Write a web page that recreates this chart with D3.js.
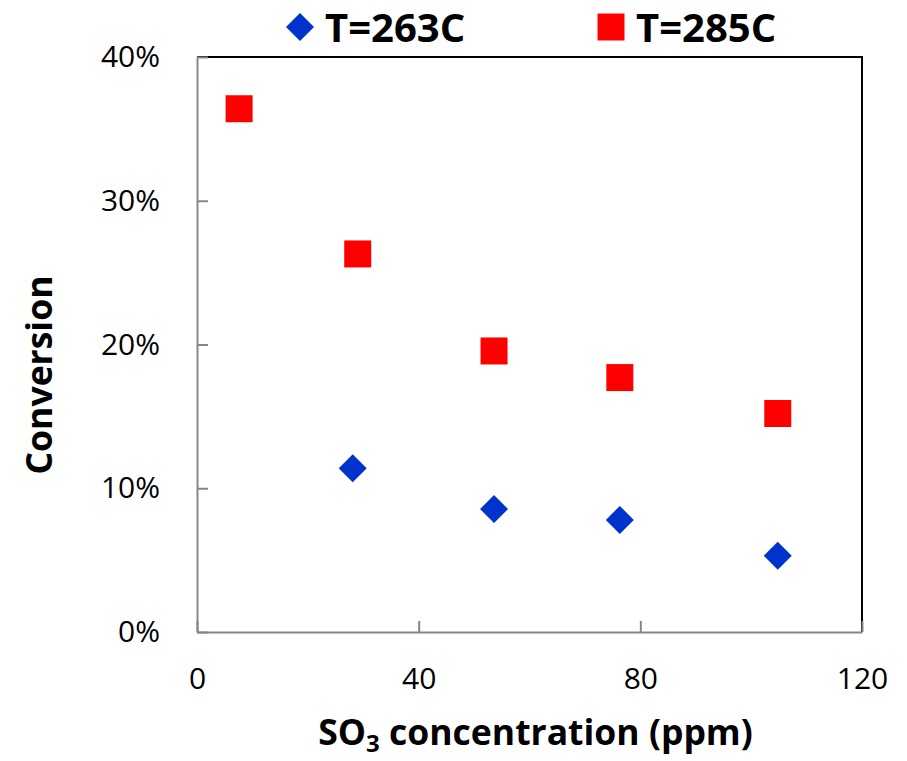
<!DOCTYPE html>
<html>
<head>
<meta charset="utf-8">
<script src="https://cdn.jsdelivr.net/npm/d3@7"></script>
<style>
  body { margin: 0; background: #fff; }
  svg { font-family: "Open Sans", sans-serif; }
</style>
</head>
<body>
<svg id="chart"></svg>
<script>
// series values (x in ppm, y as fraction)
const seriesNames = ["T=263C", "T=285C"];
const so3Low = [28.1, 53.6, 76.3, 104.8];
const convLow = [0.114, 0.0855, 0.078, 0.053];
const so3High = [7.6, 29.0, 53.6, 76.3, 104.8];
const convHigh = [0.364, 0.263, 0.1955, 0.177, 0.152];
const xTicks = [0, 40, 80, 120];
const yTicks = [0, 0.1, 0.2, 0.3, 0.4];

const width = 907, height = 761;
const margin = { top: 57, right: 45, bottom: 129, left: 197 };
const axisGrey = "#878787";

const svg = d3.select("#chart").attr("width", width).attr("height", height);

const x = d3.scaleLinear().domain([0, 120]).range([margin.left, width - margin.right]);
const y = d3.scaleLinear().domain([0, 0.4]).range([height - margin.bottom, margin.top]);

// top and right frame (black)
svg.append("path")
  .attr("d", `M${x(0)},${y(0.4)}H${x(120)}V${y(0)}`)
  .attr("fill", "none")
  .attr("stroke", "#000")
  .attr("stroke-width", 2);

// y axis
const yAxis = svg.append("g")
  .attr("transform", `translate(${x(0)},0)`)
  .call(d3.axisLeft(y).tickValues(yTicks).tickFormat(d3.format(".0%"))
    .tickSize(-11).tickSizeOuter(0).tickPadding(37));

// x axis
const xAxis = svg.append("g")
  .attr("transform", `translate(0,${y(0)})`)
  .call(d3.axisBottom(x).tickValues(xTicks)
    .tickSize(-11).tickSizeOuter(0).tickPadding(36));

[xAxis, yAxis].forEach(g => {
  g.select(".domain").attr("stroke", axisGrey).attr("stroke-width", 2);
  g.selectAll(".tick line").attr("stroke", axisGrey).attr("stroke-width", 2);
  g.selectAll(".tick text")
    .attr("fill", "#000")
    .style("font-family", "'Open Sans', sans-serif")
    .style("font-size", "30px");
});

// markers
const squarePath = d3.symbol().type(d3.symbolSquare).size(729)();
const diamondPath = d3.symbol().type(d3.symbolSquare).size(392)();

const lowPts = so3Low.map((v, i) => ({ x: v, y: convLow[i] }));
const highPts = so3High.map((v, i) => ({ x: v, y: convHigh[i] }));

svg.append("g").selectAll("path")
  .data(highPts)
  .join("path")
  .attr("d", squarePath)
  .attr("transform", d => `translate(${x(d.x)},${y(d.y)})`)
  .attr("fill", "#ff0000");

svg.append("g").selectAll("path")
  .data(lowPts)
  .join("path")
  .attr("d", diamondPath)
  .attr("transform", d => `translate(${x(d.x)},${y(d.y)}) rotate(45)`)
  .attr("fill", "#0033cc");

// legend
const legend = svg.append("g");
const legendItems = [
  { name: seriesNames[0], cx: 300, path: diamondPath, rot: 45, color: "#0033cc" },
  { name: seriesNames[1], cx: 611, path: squarePath, rot: 0, color: "#ff0000" }
];
legendItems.forEach(it => {
  legend.append("path")
    .attr("d", it.path)
    .attr("transform", `translate(${it.cx},27) rotate(${it.rot})`)
    .attr("fill", it.color);
  legend.append("text")
    .attr("x", it.cx + 25)
    .attr("y", 42)
    .attr("font-size", 40)
    .attr("font-weight", "bold")
    .text(it.name);
});

// axis titles
const xTitle = svg.append("text")
  .attr("x", (x(0) + x(120)) / 2 + 6)
  .attr("y", 745)
  .attr("text-anchor", "middle")
  .attr("font-size", 35.5)
  .attr("font-weight", "bold");
xTitle.append("tspan").text("SO");
xTitle.append("tspan").attr("font-size", 24).attr("dy", 7).text("3");
xTitle.append("tspan").attr("dy", -7).text(" concentration (ppm)");

svg.append("text")
  .attr("transform", "translate(52,375) rotate(-90)")
  .attr("text-anchor", "middle")
  .attr("font-size", 35.5)
  .attr("font-weight", "bold")
  .text("Conversion");
</script>
</body>
</html>
